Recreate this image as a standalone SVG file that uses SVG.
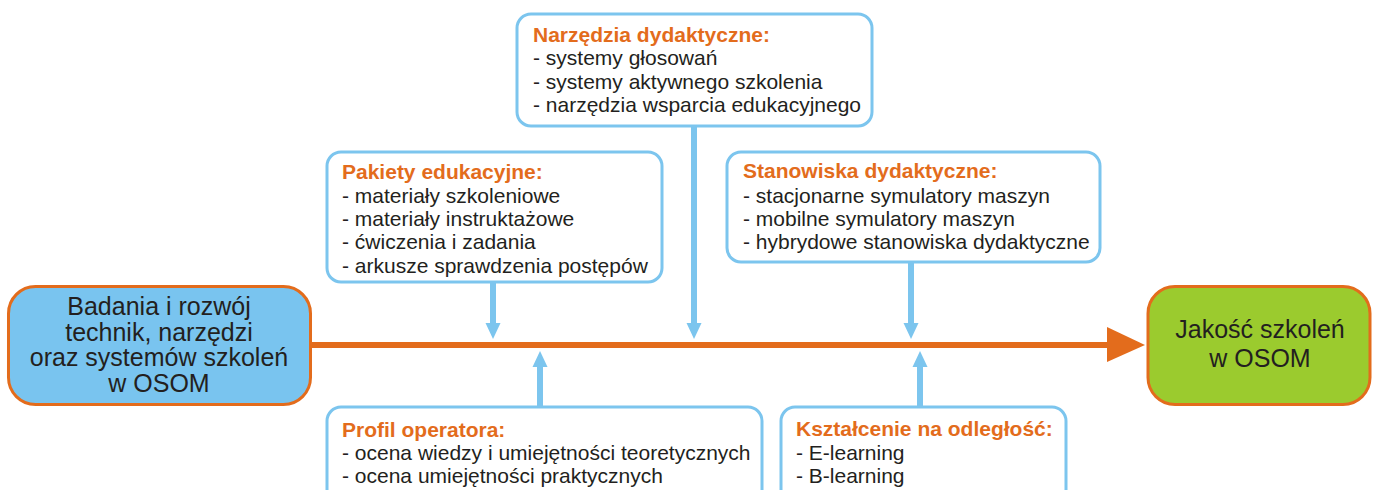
<svg xmlns="http://www.w3.org/2000/svg" width="1378" height="490" viewBox="0 0 1378 490">
<defs>
<style>
.bx{fill:#ffffff;stroke:#7cc5ee;stroke-width:3}
.t{font-family:"Liberation Sans",Arial,sans-serif;font-size:21px;fill:#231f20}
.h{font-family:"Liberation Sans",Arial,sans-serif;font-size:21px;font-weight:bold;fill:#e36c1c}
.big{font-family:"Liberation Sans",Arial,sans-serif;font-size:25px;fill:#231f20;text-anchor:middle}
.blue{stroke:#7cc5ee;stroke-width:6;fill:none}
.bh{fill:#7cc5ee}
</style>
</defs>
<rect width="1378" height="490" fill="#ffffff"/>
<g id="connectors">
<line x1="311" y1="345" x2="1110" y2="345" stroke="#e36c1c" stroke-width="6"/>
<polygon points="1107,327 1145,345 1107,362" fill="#e36c1c"/>
<line class="blue" x1="493" y1="283" x2="493" y2="325"/>
<polygon class="bh" points="485.5,323 500.5,323 493,339"/>
<line class="blue" x1="694" y1="127" x2="694" y2="325"/>
<polygon class="bh" points="686.5,323 701.5,323 694,339"/>
<line class="blue" x1="911" y1="263" x2="911" y2="325"/>
<polygon class="bh" points="903.5,323 918.5,323 911,339"/>
<line class="blue" x1="540" y1="406" x2="540" y2="365"/>
<polygon class="bh" points="532.5,367 547.5,367 540,351"/>
<line class="blue" x1="920" y1="406" x2="920" y2="365"/>
<polygon class="bh" points="912.5,367 927.5,367 920,351"/>
</g>
<g id="node-left">
<rect x="8.5" y="286.5" width="302" height="118" rx="27" fill="#79c4ef" stroke="#e36c1c" stroke-width="3"/>
<text class="big" x="159" y="315">Badania i rozwój</text>
<text class="big" x="159" y="341">technik, narzędzi</text>
<text class="big" x="159" y="366">oraz systemów szkoleń</text>
<text class="big" x="159" y="392">w OSOM</text>
</g>
<g id="node-right">
<rect x="1148" y="286.5" width="222" height="118" rx="27" fill="#9bcb2e" stroke="#e36c1c" stroke-width="3"/>
<text class="big" x="1260" y="338">Jakość szkoleń</text>
<text class="big" x="1260" y="367">w OSOM</text>
</g>
<g id="node-narzedzia">
<rect class="bx" x="517" y="14" width="355" height="112" rx="14"/>
<text class="h" x="533" y="42">Narzędzia dydaktyczne:</text>
<text class="t" x="533" y="65">- systemy głosowań</text>
<text class="t" x="533" y="89">- systemy aktywnego szkolenia</text>
<text class="t" x="533" y="112">- narzędzia wsparcia edukacyjnego</text>
</g>
<g id="node-pakiety">
<rect class="bx" x="327" y="152" width="335" height="130" rx="14"/>
<text class="h" x="342" y="179">Pakiety edukacyjne:</text>
<text class="t" x="342" y="203">- materiały szkoleniowe</text>
<text class="t" x="342" y="226">- materiały instruktażowe</text>
<text class="t" x="342" y="249">- ćwiczenia i zadania</text>
<text class="t" x="342" y="273">- arkusze sprawdzenia postępów</text>
</g>
<g id="node-stanowiska">
<rect class="bx" x="727" y="152" width="373" height="110" rx="14"/>
<text class="h" x="743" y="178">Stanowiska dydaktyczne:</text>
<text class="t" x="743" y="203">- stacjonarne symulatory maszyn</text>
<text class="t" x="743" y="226">- mobilne symulatory maszyn</text>
<text class="t" x="743" y="249">- hybrydowe stanowiska dydaktyczne</text>
</g>
<g id="node-profil">
<rect class="bx" x="327" y="407" width="435" height="120" rx="14"/>
<text class="h" x="342" y="437">Profil operatora:</text>
<text class="t" x="342" y="460">- ocena wiedzy i umiejętności teoretycznych</text>
<text class="t" x="342" y="483">- ocena umiejętności praktycznych</text>
</g>
<g id="node-ksztalcenie">
<rect class="bx" x="781" y="407" width="285" height="120" rx="14"/>
<text class="h" x="796" y="436">Kształcenie na odległość:</text>
<text class="t" x="796" y="460">- E-learning</text>
<text class="t" x="796" y="483">- B-learning</text>
</g>
</svg>
